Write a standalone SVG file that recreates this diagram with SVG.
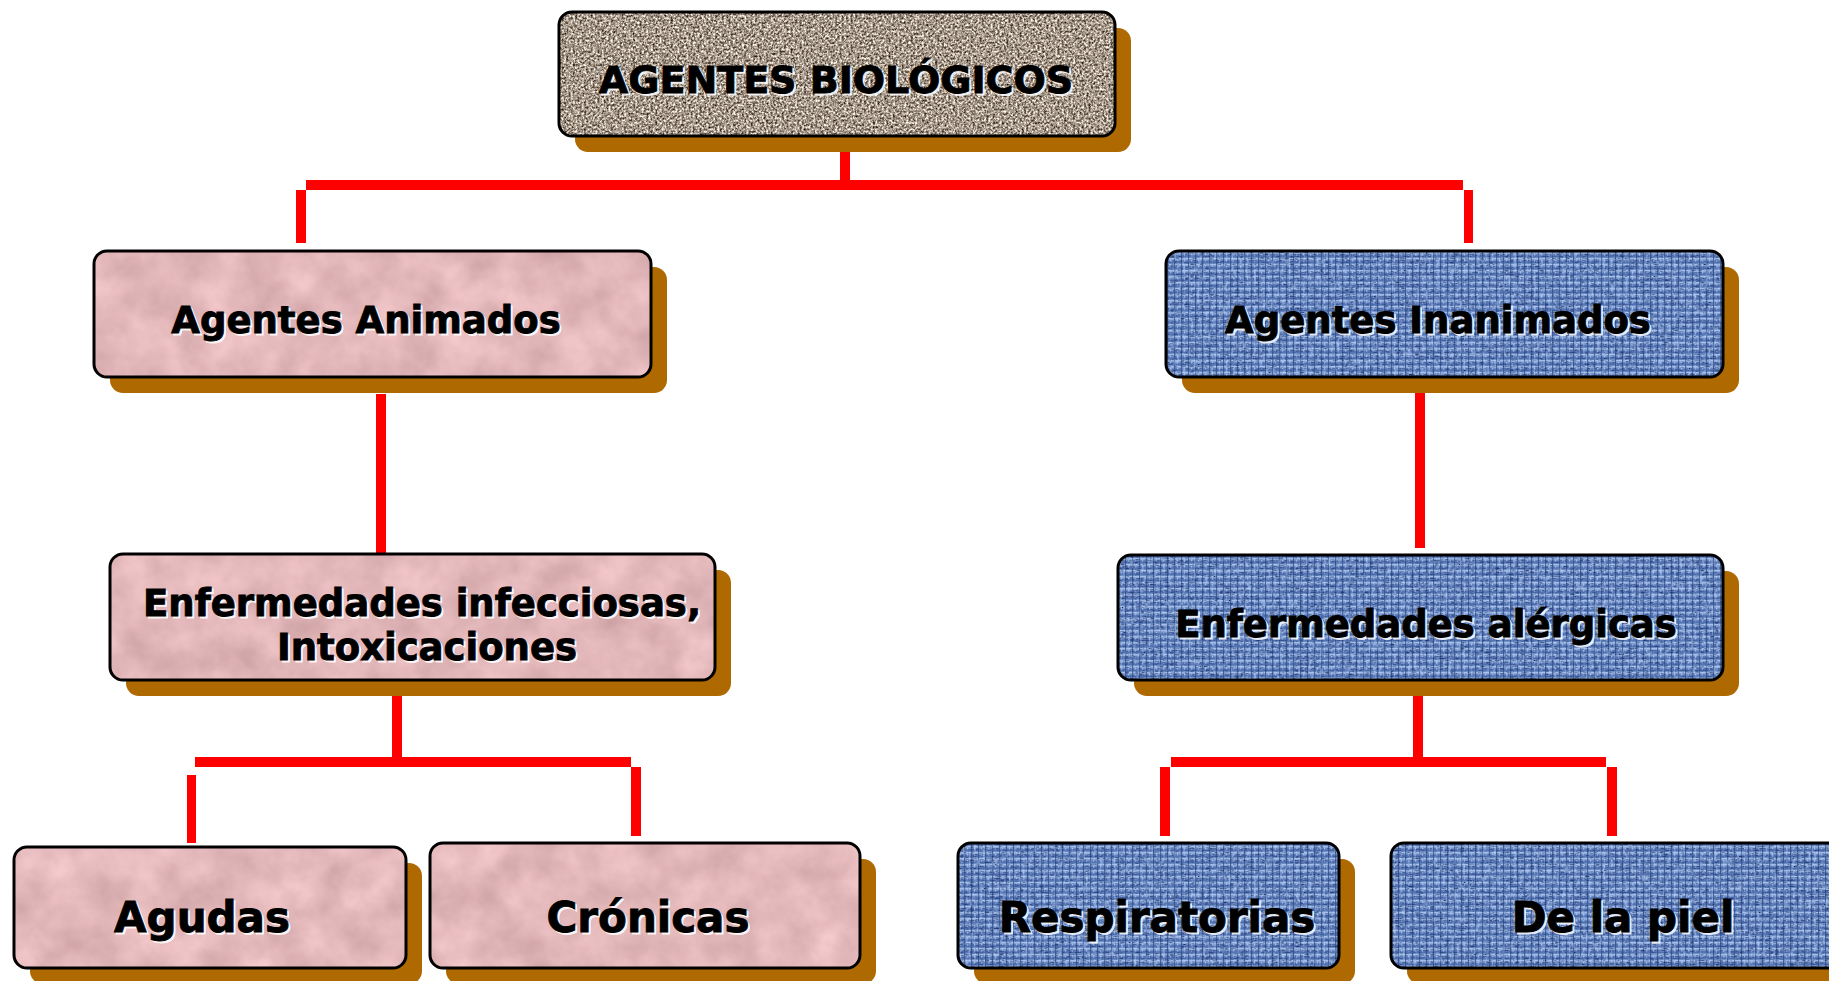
<svg xmlns="http://www.w3.org/2000/svg" width="1829" height="981" viewBox="0 0 1829 981">
<style>
.sh{fill:#AE6900}
.bd{fill:none;stroke:#000;stroke-width:3}
.granite{fill:#A89B90;filter:url(#fGranite)}
.pink{fill:#E6BCBE;filter:url(#fPink)}
.blue{fill:url(#weave);filter:url(#fFabric)}
.t{font-family:"DejaVu Sans",Verdana,sans-serif;font-weight:bold;text-anchor:middle;fill:#000;stroke:#000;stroke-width:0.9}
.tw{font-family:"DejaVu Sans",Verdana,sans-serif;font-weight:bold;text-anchor:middle;fill:#fff;stroke:#fff;stroke-width:0.9;opacity:0.85}
.c{fill:#FF0000}
</style>
<defs>
<filter id="fGranite" x="0" y="0" width="100%" height="100%" color-interpolation-filters="sRGB">
<feTurbulence type="fractalNoise" baseFrequency="0.45" numOctaves="3" seed="4" result="n"/>
<feColorMatrix in="n" type="matrix" values="1.45 0 0 0 -0.08  1.45 0 0 0 -0.13  1.45 0 0 0 -0.18  0 0 0 0 1" result="c"/>
<feComposite in="c" in2="SourceGraphic" operator="in"/>
</filter>
<filter id="fPink" x="0" y="0" width="100%" height="100%" color-interpolation-filters="sRGB">
<feTurbulence type="fractalNoise" baseFrequency="0.025" numOctaves="4" seed="7" result="n"/>
<feColorMatrix in="n" type="matrix" values="0.2 0 0 0 0.79  0.2 0 0 0 0.62  0.2 0 0 0 0.63  0 0 0 0 1" result="c"/>
<feComposite in="c" in2="SourceGraphic" operator="in"/>
</filter>
<filter id="fFabric" x="0" y="0" width="100%" height="100%" color-interpolation-filters="sRGB">
<feTurbulence type="turbulence" baseFrequency="0.2 0.5" numOctaves="2" seed="2" result="n"/>
<feColorMatrix in="n" type="matrix" values="0 0 0 0 0.1  0 0 0 0 0.18  0 0 0 0 0.4  1.4 0 0 0 -0.25" result="d"/>
<feComposite in="d" in2="SourceGraphic" operator="in" result="dc"/>
<feTurbulence type="fractalNoise" baseFrequency="0.35 0.12" numOctaves="1" seed="9" result="n2"/>
<feColorMatrix in="n2" type="matrix" values="0 0 0 0 0.75  0 0 0 0 0.84  0 0 0 0 0.98  2.2 0 0 0 -1.2" result="l"/>
<feComposite in="l" in2="SourceGraphic" operator="in" result="lc"/>
<feMerge><feMergeNode in="SourceGraphic"/><feMergeNode in="dc"/><feMergeNode in="lc"/></feMerge>
</filter>
<pattern id="weave" width="7" height="6" patternUnits="userSpaceOnUse">
<rect width="7" height="6" fill="#6C8DC8"/>
<rect x="0" y="0" width="7" height="1.5" fill="#A6BFEB"/>
<rect x="0" y="3.5" width="7" height="1" fill="#3E5D9C"/>
<rect x="5" y="0" width="1.2" height="6" fill="#2E4A88" opacity="0.7"/>
<rect x="1" y="1.5" width="1.2" height="2" fill="#B8CDF2" opacity="0.7"/>
</pattern>
</defs>

<g id="connectors">
<rect class="c" x="840" y="143" width="10" height="37"/>
<rect class="c" x="306" y="180" width="1157" height="10"/>
<rect class="c" x="296" y="190" width="10" height="53"/>
<rect class="c" x="1464" y="190" width="9" height="53"/>
<rect class="c" x="376" y="394" width="10" height="159"/>
<rect class="c" x="1415" y="385" width="10" height="163"/>
<rect class="c" x="392" y="688" width="10" height="69"/>
<rect class="c" x="195" y="757" width="436" height="10"/>
<rect class="c" x="187" y="775" width="9" height="68"/>
<rect class="c" x="631" y="767" width="10" height="69"/>
<rect class="c" x="1413" y="688" width="10" height="69"/>
<rect class="c" x="1171" y="757" width="435" height="10"/>
<rect class="c" x="1160" y="767" width="10" height="69"/>
<rect class="c" x="1607" y="767" width="10" height="69"/>
</g>

<g id="agentes-biologicos">
<rect class="sh" x="575" y="28" width="556" height="124" rx="13"/>
<rect class="granite" x="559" y="12" width="556" height="124" rx="13"/>
<rect class="bd" x="559" y="12" width="556" height="124" rx="13"/>
<text class="tw" x="838" y="95" font-size="38">AGENTES BIOLÓGICOS</text>
<text class="t" x="836" y="93" font-size="38">AGENTES BIOLÓGICOS</text>
</g>

<g id="agentes-animados">
<rect class="sh" x="110" y="267" width="557" height="126" rx="13"/>
<rect class="pink" x="94" y="251" width="557" height="126" rx="13"/>
<rect class="bd" x="94" y="251" width="557" height="126" rx="13"/>
<text class="tw" x="368" y="335" font-size="37">Agentes Animados</text>
<text class="t" x="366" y="333" font-size="37">Agentes Animados</text>
</g>

<g id="agentes-inanimados">
<rect class="sh" x="1182" y="267" width="557" height="126" rx="13"/>
<rect class="blue" x="1166" y="251" width="557" height="126" rx="13"/>
<rect class="bd" x="1166" y="251" width="557" height="126" rx="13"/>
<text class="tw" x="1440" y="335" font-size="37">Agentes Inanimados</text>
<text class="t" x="1438" y="333" font-size="37">Agentes Inanimados</text>
</g>

<g id="enfermedades-infecciosas">
<rect class="sh" x="126" y="570" width="605" height="126" rx="13"/>
<rect class="pink" x="110" y="554" width="605" height="126" rx="13"/>
<rect class="bd" x="110" y="554" width="605" height="126" rx="13"/>
<text class="tw" x="424" y="618" font-size="37">Enfermedades infecciosas,</text>
<text class="t" x="422" y="616" font-size="37">Enfermedades infecciosas,</text>
<text class="tw" x="429" y="662" font-size="37">Intoxicaciones</text>
<text class="t" x="427" y="660" font-size="37">Intoxicaciones</text>
</g>

<g id="enfermedades-alergicas">
<rect class="sh" x="1134" y="571" width="605" height="125" rx="13"/>
<rect class="blue" x="1118" y="555" width="605" height="125" rx="13"/>
<rect class="bd" x="1118" y="555" width="605" height="125" rx="13"/>
<text class="tw" x="1428" y="639" font-size="37">Enfermedades alérgicas</text>
<text class="t" x="1426" y="637" font-size="37">Enfermedades alérgicas</text>
</g>

<g id="agudas">
<rect class="sh" x="30" y="863" width="392" height="121" rx="13"/>
<rect class="pink" x="14" y="847" width="392" height="121" rx="13"/>
<rect class="bd" x="14" y="847" width="392" height="121" rx="13"/>
<text class="tw" x="204" y="934" font-size="42">Agudas</text>
<text class="t" x="202" y="932" font-size="42">Agudas</text>
</g>

<g id="cronicas">
<rect class="sh" x="446" y="859" width="430" height="125" rx="13"/>
<rect class="pink" x="430" y="843" width="430" height="125" rx="13"/>
<rect class="bd" x="430" y="843" width="430" height="125" rx="13"/>
<text class="tw" x="650" y="934" font-size="42">Crónicas</text>
<text class="t" x="648" y="932" font-size="42">Crónicas</text>
</g>

<g id="respiratorias">
<rect class="sh" x="974" y="859" width="381" height="125" rx="13"/>
<rect class="blue" x="958" y="843" width="381" height="125" rx="13"/>
<rect class="bd" x="958" y="843" width="381" height="125" rx="13"/>
<text class="tw" x="1159" y="934" font-size="42">Respiratorias</text>
<text class="t" x="1157" y="932" font-size="42">Respiratorias</text>
</g>

<g id="de-la-piel">
<rect class="sh" x="1407" y="859" width="460" height="125" rx="13"/>
<rect class="blue" x="1391" y="843" width="460" height="125" rx="13"/>
<rect class="bd" x="1391" y="843" width="460" height="125" rx="13"/>
<text class="tw" x="1625" y="934" font-size="42">De la piel</text>
<text class="t" x="1623" y="932" font-size="42">De la piel</text>
</g>
</svg>
